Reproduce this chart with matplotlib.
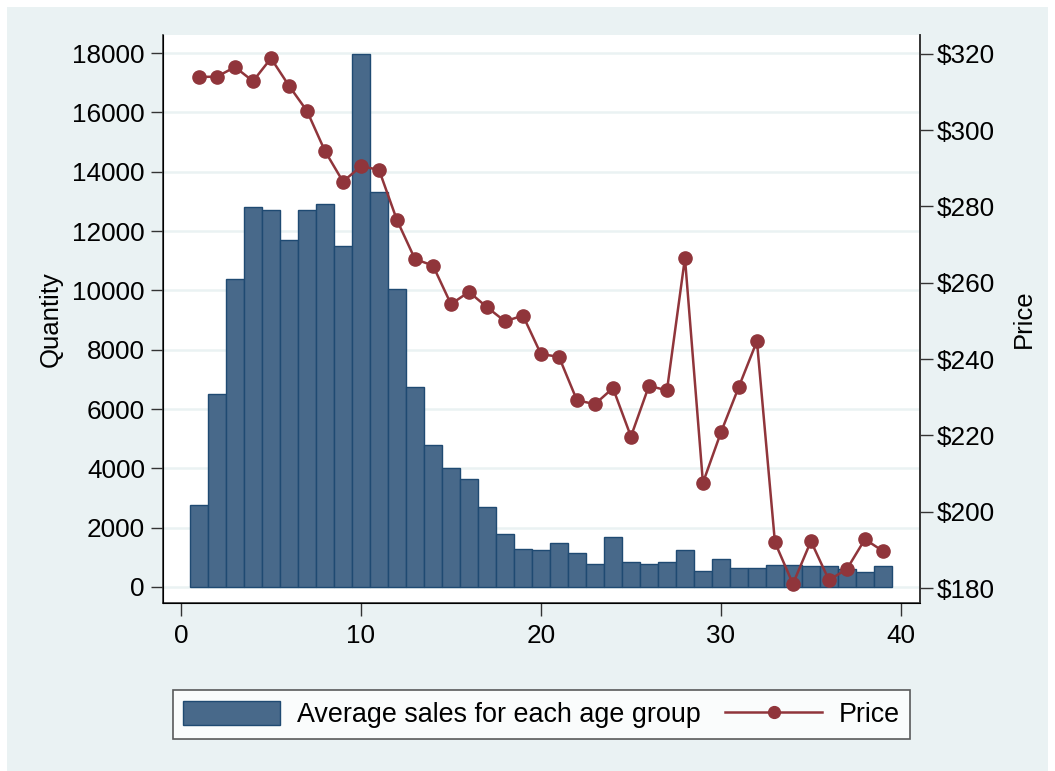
import matplotlib.pyplot as plt
from matplotlib.patches import Rectangle
from matplotlib.lines import Line2D
import numpy as np

plt.rcParams['font.family'] = ['Liberation Sans', 'DejaVu Sans']

# age groups 1..39
age = np.arange(1, 40)

# average sales for each age group
quantity = [2750, 6500, 10400, 12800, 12700, 11700, 12700, 12900, 11500, 17980,
            13300, 10050, 6750, 4780, 4000, 3650, 2700, 1780, 1280, 1240,
            1490, 1130, 790, 1690, 830, 760, 840, 1250, 550, 950,
            630, 650, 730, 740, 700, 716, 620, 490, 700]

# price per age group
price = [313.9, 314.0, 316.5, 312.8, 318.8, 311.6, 305.0, 294.5, 286.5, 290.5,
         289.6, 276.4, 266.2, 264.5, 254.4, 257.6, 253.6, 249.9, 251.4, 241.3,
         240.6, 229.2, 228.2, 232.4, 219.7, 233.0, 231.8, 266.5, 207.6, 220.8,
         232.8, 244.7, 192.0, 181.1, 192.3, 182.1, 185.0, 192.8, 189.7]

qty_ticks = np.arange(0, 18001, 2000)
price_ticks = np.arange(180, 321, 20)
x_ticks = [0, 10, 20, 30, 40]

bg = '#EAF2F3'
bar_col = '#48698A'
bar_edge = '#1F4A72'
line_col = '#90353B'

W, H = 1055, 771
fig = plt.figure(figsize=(W / 100, H / 100), dpi=100, facecolor='white')
fig.patches.append(Rectangle((7 / W, 0), (1048 - 7) / W, 1 - 7 / H,
                             transform=fig.transFigure, facecolor=bg,
                             edgecolor='none', zorder=-10))

ax = fig.add_axes([163 / W, 1 - 603 / H, (920 - 163) / W, (603 - 35) / H])
ax.set_facecolor('white')
ax.bar(age, quantity, width=1.0, color=bar_col, edgecolor=bar_edge,
       linewidth=1.0, zorder=2)
ax.set_xlim(-1.0, 41.06)
ax.set_ylim(-540, 18610)
ax.set_yticks(qty_ticks)
ax.set_xticks(x_ticks)
ax.grid(axis='y', color=bg, linewidth=1.8, zorder=0)
ax.set_axisbelow(True)
ax.set_ylabel('Quantity', fontsize=18.5, labelpad=7)
ax.tick_params(axis='both', labelsize=18.8, length=9, width=1.0, color='#333333')
ax.tick_params(axis='y', pad=4)
ax.tick_params(axis='x', pad=6)
ax.spines['top'].set_visible(False)
for s in ['left', 'bottom', 'right']:
    ax.spines[s].set_color('#333333')
    ax.spines[s].set_linewidth(1.2)

ax2 = ax.twinx()
ax2.plot(age, price, color=line_col, linewidth=1.8, marker='o',
         markersize=9.5, zorder=3)
ax2.set_ylim(176.1, 324.9)
ax2.set_yticks(price_ticks)
ax2.set_yticklabels(['$%d' % p for p in price_ticks])
ax2.set_ylabel('Price', fontsize=18.5, labelpad=12)
ax2.tick_params(axis='y', labelsize=18.8, length=9, width=1.0, color='#333333', pad=3)
ax2.spines['top'].set_visible(False)
ax2.spines['right'].set_color('#333333')
ax2.spines['right'].set_linewidth(1.2)

handles = [Rectangle((0, 0), 1, 1, facecolor=bar_col, edgecolor=bar_edge),
           Line2D([], [], color=line_col, linewidth=1.8, marker='o', markersize=8.5)]
leg = fig.legend(handles, ['Average sales for each age group', 'Price'],
                 loc='center', bbox_to_anchor=(541.5 / W, 1 - 714.5 / H),
                 ncol=2, fontsize=19.4, frameon=True, fancybox=False,
                 edgecolor='#333333', handlelength=3.6, handleheight=1.0,
                 columnspacing=0.93, borderpad=0.4, handletextpad=0.6)
leg.get_frame().set_linewidth(1.2)

fig.savefig('out.png', dpi=100, facecolor='white')
